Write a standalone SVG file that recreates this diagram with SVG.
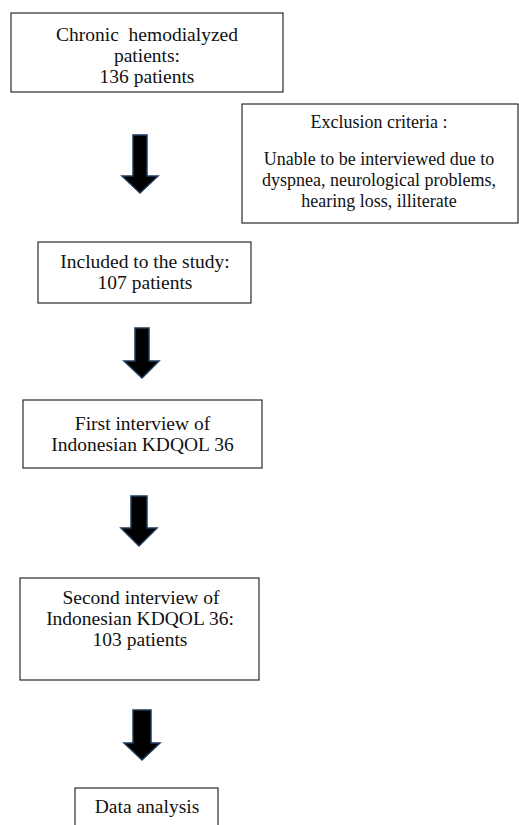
<svg xmlns="http://www.w3.org/2000/svg" width="519" height="825" viewBox="0 0 519 825">
<style>
.box{fill:#fff;stroke:#2b2b2b;stroke-width:1.2}
.t{font-family:"Liberation Serif","Times New Roman",serif;font-size:19.5px;fill:#111;text-anchor:middle}
.s{font-size:18px}
.arr{fill:#000;stroke:#1f3b5c;stroke-width:1.5;stroke-linejoin:miter}
</style>
<rect width="519" height="825" fill="#fff"/>
<g id="n1">
<rect class="box" x="11" y="13" width="272" height="79"/>
<text class="t" x="147" y="40.5" xml:space="preserve">Chronic  hemodialyzed</text>
<text class="t" x="147" y="62">patients:</text>
<text class="t" x="147" y="83">136 patients</text>
</g>
<g id="n2">
<rect class="box" x="242" y="104" width="276" height="119"/>
<text class="t s" x="379" y="128">Exclusion criteria :</text>
<text class="t s" x="379" y="165">Unable to be interviewed due to</text>
<text class="t s" x="379" y="186">dyspnea, neurological problems,</text>
<text class="t s" x="379" y="206.5">hearing loss, illiterate</text>
</g>
<g id="n3">
<rect class="box" x="38" y="242" width="213" height="61"/>
<text class="t" x="145" y="267.5">Included to the study:</text>
<text class="t" x="145" y="288.5">107 patients</text>
</g>
<g id="n4">
<rect class="box" x="23" y="400" width="239" height="68"/>
<text class="t" x="142.5" y="430">First interview of</text>
<text class="t" x="142.5" y="450.5">Indonesian KDQOL 36</text>
</g>
<g id="n5">
<rect class="box" x="20" y="578" width="239" height="102"/>
<text class="t" x="141" y="604">Second interview of</text>
<text class="t" x="140" y="625">Indonesian KDQOL 36:</text>
<text class="t" x="140" y="645.5">103 patients</text>
</g>
<g id="n6">
<rect class="box" x="75" y="788" width="143" height="50"/>
<text class="t" x="147" y="813">Data analysis</text>
</g>
<g id="connectors">
<path class="arr" d="M133,135 H147 V176 H158 L140,193 L122,176 H133 Z"/>
<path class="arr" d="M135,328 H149 V361 H159 L142,378 L124,361 H135 Z"/>
<path class="arr" d="M131,496 H147 V528 H157 L139,546 L121,528 H131 Z"/>
<path class="arr" d="M133,710 H151 V743 H160 L142,760 L124,743 H133 Z"/>
</g>
</svg>
